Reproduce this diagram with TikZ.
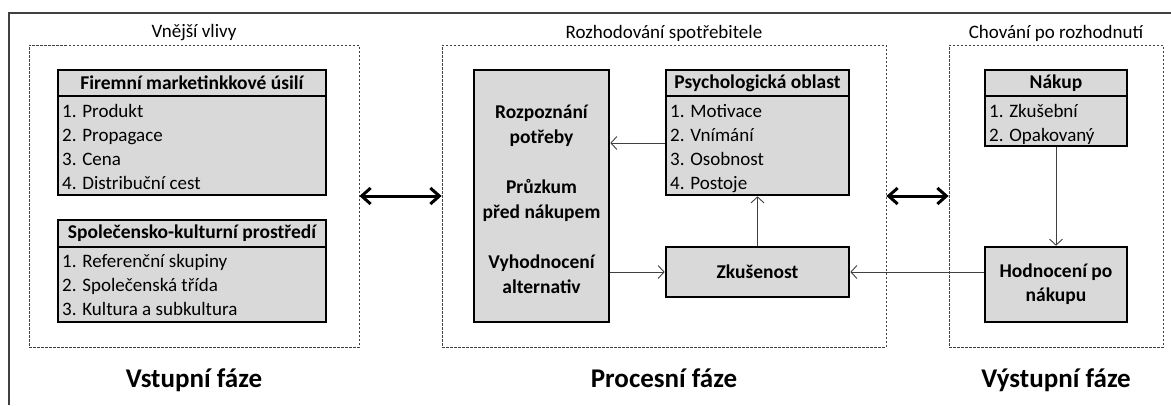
\documentclass[tikz,border=0pt]{standalone}
\usepackage{fontspec}
\setmainfont{Carlito}
\usetikzlibrary{arrows.meta,positioning,calc}
\definecolor{boxgray}{HTML}{D9D9D9}
\definecolor{linegray}{HTML}{404040}

\begin{document}
\begin{tikzpicture}[x=1pt, y=-1pt,
  dbox/.style={rectangle, draw=linegray, dash pattern=on 2.5pt off 1.5pt, line width=0.8pt},
  gbox/.style={rectangle, draw, line width=2.6pt, fill=boxgray},
  hdr/.style={font=\fontsize{19.5}{22}\selectfont\bfseries},
  itm/.style={anchor=base west, inner sep=0pt, font=\fontsize{19}{22}\selectfont},
  big/.style={align=center, font=\fontsize{19.5}{25}\selectfont\bfseries},
  title/.style={font=\fontsize{19}{22}\selectfont},
  phase/.style={anchor=base, font=\fontsize{27}{30}\selectfont\bfseries},
  arr/.style={-{Straight Barb[length=6pt, width=13pt]}, line width=0.9pt, linegray},
  dbl/.style={{Straight Barb[length=9pt, width=16pt]}-{Straight Barb[length=9pt, width=16pt]}, line width=3pt}
]
  \useasboundingbox (0,0) rectangle (1171,405);
  \draw[line width=1.8pt, linegray] (9,405) -- (9,13) -- (1171,13);

  % dashed areas
  \node[dbox, minimum width=330, minimum height=302] (inbox) at (194,196) {};
  \node[dbox, minimum width=444, minimum height=302] (procbox) at (664,196) {};
  \node[dbox, minimum width=214, minimum height=302] (outbox) at (1056,196) {};
  \node[title] (intitle) at (194,33) {Vnější vlivy};
  \node[title] (proctitle) at (664,33) {Rozhodování spotřebitele};
  \node[title] (outtitle) at (1056,33) {Chování po rozhodnutí};

  % input phase
  \node[gbox, minimum width=268, minimum height=125] (firm) at (192,132.5) {};
  \draw[line width=2.2pt] (58,96) -- (326,96);
  \node[hdr] (firmhdr) at (192,83) {Firemní marketinkkové úsilí};
  \node[itm] (firm1) at (62,117) {1. Produkt};
  \node[itm] (firm2) at (62,141) {2. Propagace};
  \node[itm] (firm3) at (62,165) {3. Cena};
  \node[itm] (firm4) at (62,189) {4. Distribuční cest};

  \node[gbox, minimum width=268, minimum height=102] (soc) at (192,271) {};
  \draw[line width=2.2pt] (58,247) -- (326,247);
  \node[hdr] (sochdr) at (192,233.5) {Společensko-kulturní prostředí};
  \node[itm] (soc1) at (62,267) {1. Referenční skupiny};
  \node[itm] (soc2) at (62,291) {2. Společenská třída};
  \node[itm] (soc3) at (62,315) {3. Kultura a subkultura};

  % process phase
  \node[gbox, minimum width=135, minimum height=252] (dec) at (541.5,196) {};
  \node[big] (dectext) at (541.5,199) {Rozpoznání\\potřeby\\[25pt]Průzkum\\před nákupem\\[25pt]Vyhodnocení\\alternativ};

  \node[gbox, minimum width=183, minimum height=125] (psych) at (757.5,132.5) {};
  \draw[line width=2.2pt] (666,96) -- (849,96);
  \node[hdr] (psychhdr) at (757.5,83) {Psychologická oblast};
  \node[itm] (psych1) at (670,117) {1. Motivace};
  \node[itm] (psych2) at (670,141) {2. Vnímání};
  \node[itm] (psych3) at (670,165) {3. Osobnost};
  \node[itm] (psych4) at (670,189) {4. Postoje};

  \node[gbox, minimum width=183, minimum height=50, hdr] (zkus) at (757.5,272) {Zkušenost};

  % output phase
  \node[gbox, minimum width=142, minimum height=76] (nakup) at (1056,108) {};
  \draw[line width=2.2pt] (985,96) -- (1127,96);
  \node[hdr] (nakuphdr) at (1056,83) {Nákup};
  \node[itm] (nakup1) at (989,117) {1. Zkušební};
  \node[itm] (nakup2) at (989,141) {2. Opakovaný};

  \node[gbox, minimum width=142, minimum height=75, align=center, font=\fontsize{19.5}{24}\selectfont\bfseries] (hodn) at (1056,284.5) {Hodnocení po\\nákupu};

  % phase names
  \node[phase] (inphase) at (194,387) {Vstupní fáze};
  \node[phase] (procphase) at (664,387) {Procesní fáze};
  \node[phase] (outphase) at (1056,387) {Výstupní fáze};

  % connectors
  \draw[dbl] (inbox.east) -- (procbox.west);
  \draw[dbl] (procbox.east) -- (outbox.west);
  \draw[arr] ([yshift=-10.5pt]psych.west) -- ([yshift=-10.5pt]psych.west -| dec.east);
  \draw[arr] (zkus.west -| dec.east) -- (zkus.west);
  \draw[arr] (zkus.north) -- (psych.south);
  \draw[arr] (hodn.west |- zkus.east) -- (zkus.east);
  \draw[arr] (nakup.south) -- (hodn.north);
\end{tikzpicture}
\end{document}
